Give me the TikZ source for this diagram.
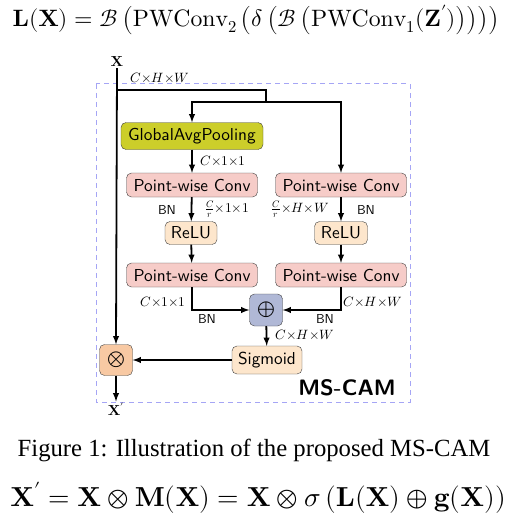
\documentclass[tikz,border=0pt]{standalone}
\usepackage{amsmath}
\usepackage{fontspec}
\usepackage{unicode-math}
\setmainfont{lmroman10-regular.otf}[BoldFont=lmroman10-bold.otf, ItalicFont=lmroman10-italic.otf]
\setsansfont{lmsans10-regular.otf}[BoldFont=lmsans10-bold.otf, ItalicFont=lmsans10-oblique.otf]
\setmathfont{Latin Modern Math}
\newfontfamily\capfont{Liberation Serif}
\usepackage{tikz}
\usetikzlibrary{arrows,calc,positioning}
\definecolor{poolcol}{RGB}{204,206,42}
\definecolor{convcol}{RGB}{246,204,200}
\definecolor{actcol}{RGB}{253,230,204}
\definecolor{addcol}{RGB}{176,184,214}
\definecolor{mulcol}{RGB}{248,201,163}
\definecolor{boxcol}{RGB}{165,165,245}
\tikzset{%
	pool/.style   = {draw=black!75, fill=poolcol, rectangle, rounded corners=5pt, minimum width=142pt, minimum height=27pt, text centered, font=\fontsize{17.3}{18}\sffamily},
	conv/.style   = {draw=black!75, fill=convcol, rectangle, rounded corners=5pt, minimum width=131pt, minimum height=24pt, text centered, font=\fontsize{17.3}{18}\sffamily},
	act/.style    = {draw=black!75, fill=actcol, rectangle, rounded corners=5pt, minimum height=23pt, text centered, font=\fontsize{17.3}{18}\sffamily},
	opbox/.style  = {draw=black!75, rectangle, rounded corners=5pt, minimum width=33pt, minimum height=32pt, inner sep=0pt, font=\fontsize{23}{23}\selectfont},
	dim/.style    = {inner sep=1pt, font=\fontsize{13.5}{13.5}\selectfont},
	bn/.style     = {inner sep=1pt, font=\fontsize{13}{13}\sffamily},
	arrow/.style  = {line width=1.8pt,-latex},
	wire/.style   = {line width=1.8pt},
}
\begin{document}
\begin{tikzpicture}[x=1pt,y=-1pt]
	\useasboundingbox (0,0) rectangle (512,524);
	% formulas and caption
	\node (lx) at (256,20) {\fontsize{23.7}{24}\selectfont $\mathbf{L}(\mathbf{X}) = \mathcal{B}\left(\mathrm{PWConv}_2\left(\delta\left(\mathcal{B}\left(\mathrm{PWConv}_1(\mathbf{Z}')\right)\right)\right)\right)$};
	\node (cap) at (254,450) {\fontsize{24.7}{26}\capfont Figure 1: Illustration of the proposed MS-CAM};
	\node (mx) at (258,498) {\fontsize{27.5}{28}\selectfont $\mathbf{X}' = \mathbf{X}\otimes\mathbf{M}(\mathbf{X}) = \mathbf{X}\otimes\sigma\left(\mathbf{L}(\mathbf{X})\oplus\mathbf{g}(\mathbf{X})\right)$};
	
	\draw[boxcol, line width=1pt, dash pattern=on 5pt off 4pt] (96,84) rectangle (410,402);  % MS-CAM frame
	\node[font=\fontsize{22.3}{23}\sffamily\bfseries] (mscam) at (347,388) {MS-CAM};
	
	\node[inner sep=1pt] (xin) at (117,62) {\fontsize{14.5}{14.5}\selectfont $\mathbf{X}$};
	\node[dim] (dimin) at (160,78) {$C{\times}H{\times}W$};
	
	\node[pool] (gap) at (192,136) {GlobalAvgPooling};
	\node[conv] (pwla) at (192,185) {Point-wise Conv};
	\node[conv] (pwra) at (341,185) {Point-wise Conv};
	\node[act, minimum width=52pt] (relul) at (191,233) {ReLU};
	\node[act, minimum width=53pt] (relur) at (341,233) {ReLU};
	\node[conv] (pwlb) at (192,275) {Point-wise Conv};
	\node[conv] (pwrb) at (341,275) {Point-wise Conv};
	\node[opbox, fill=addcol] (add) at (266,310) {$\oplus$};
	\node[act, minimum width=70pt, minimum height=28pt] (sig) at (267,360) {Sigmoid};
	\node[opbox, fill=mulcol, minimum height=31pt] (mul) at (116,360) {$\otimes$};
	\node[inner sep=1pt] (xout) at (116,409) {\fontsize{14.5}{14.5}\selectfont $\mathbf{X}'$};
	
	% size labels
	\node[dim] (dgap) at (223,161) {$C{\times}1{\times}1$};
	\node[bn] (bnla) at (167,210) {BN};
	\node[dim] (dla) at (227,209) {$\frac{C}{r}{\times}1{\times}1$};
	\node[dim] (dra) at (300,209) {$\frac{C}{r}{\times}H{\times}W$};
	\node[bn] (bnra) at (366,210) {BN};
	\node[dim] (dlb) at (163,302) {$C{\times}1{\times}1$};
	\node[bn] (bnlb) at (207,319) {BN};
	\node[dim] (drb) at (373,302) {$C{\times}H{\times}W$};
	\node[bn] (bnrb) at (325,319) {BN};
	\node[dim] (dadd) at (305,335) {$C{\times}H{\times}W$};
	
	\coordinate (tap) at (116,90);
	\coordinate (fork) at (266,102);
	
	\draw[arrow] (xin.south) -- (mul.north);
	\draw[wire] (tap) -| (fork);
	\draw[arrow] (fork) -| (gap.north);
	\draw[arrow] (fork) -| (pwra.north);
	\draw[arrow] (gap) -- (pwla);
	\draw[arrow] (pwla) -- (relul);
	\draw[arrow] (relul) -- (pwlb);
	\draw[arrow] (pwra) -- (relur);
	\draw[arrow] (relur) -- (pwrb);
	\draw[arrow] (pwlb.south) |- (add.west);
	\draw[arrow] (pwrb.south) |- (add.east);
	\draw[arrow] (add) -- (sig);
	\draw[arrow] (sig) -- (mul);
	\draw[arrow] (mul) -- (xout);
\end{tikzpicture}
\end{document}
